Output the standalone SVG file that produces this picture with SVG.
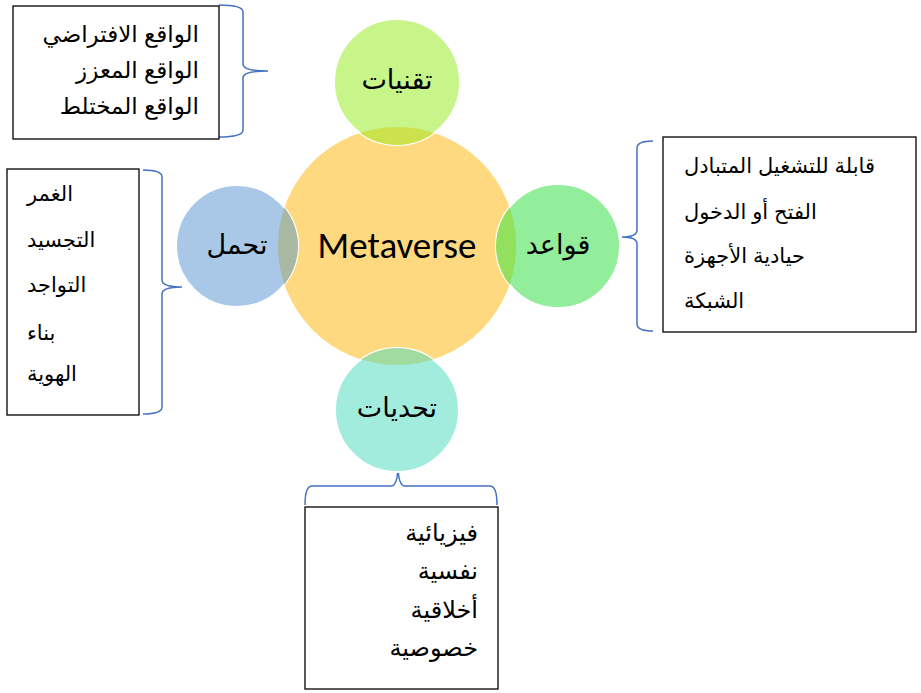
<svg xmlns="http://www.w3.org/2000/svg" width="921" height="693" viewBox="0 0 921 693">
<style>
.box{fill:#fff;stroke:#000;stroke-width:1.3}
.brace{fill:none;stroke:#4472C4;stroke-width:1.5}
.t{font-family:"Liberation Sans","DejaVu Sans",sans-serif;font-size:21px;fill:#000}
.t23{font-size:23px}
.t24{font-size:24px}
.c{font-family:"Liberation Sans","DejaVu Sans",sans-serif;font-size:27px;fill:#000;text-anchor:middle}
.m{font-family:"Carlito","Liberation Sans",sans-serif;font-size:37px;fill:#000;text-anchor:middle}
.ring{stroke:#fff;stroke-width:2}
</style>
<defs>
<clipPath id="big"><circle cx="397" cy="246" r="119"/></clipPath>
</defs>
<g id="connectors">
<path class="brace" d="M219,5 Q243,5 243,12 L243,64 Q243,71 268,71 Q243,71 243,78 L243,130 Q243,137 219,137"/>
<path class="brace" d="M143,170 Q162,170 162,177 L162,280 Q162,287 182,287 Q162,287 162,294 L162,407 Q162,414 143,414"/>
<path class="brace" d="M653,141 Q637,141 637,148 L637,230 Q637,237 622,237 Q637,237 637,244 L637,324 Q637,331 653,331"/>
<path class="brace" d="M305,505 Q305,486 312,486 L391,486 Q398,486 398,464 Q398,486 405,486 L490,486 Q497,486 497,505"/>
</g>
<g id="metaverse">
<circle cx="397" cy="246" r="119" fill="#FFD97F"/>
<text class="m" x="397" y="258">Metaverse</text>
</g>
<g id="tech">
<circle class="ring" cx="397" cy="82" r="63" fill="#C8F58A"/>
<circle cx="397" cy="82" r="63" fill="#CCE24C" clip-path="url(#big)"/>
<text class="c" x="397" y="89">تقنيات</text>
</g>
<g id="endure">
<circle class="ring" cx="237" cy="246" r="61" fill="#A9C8E8"/>
<circle cx="237" cy="246" r="61" fill="#A8B8A2" clip-path="url(#big)"/>
<text class="c" x="237" y="254">تحمل</text>
</g>
<g id="rules">
<circle class="ring" cx="558" cy="246" r="62" fill="#93EE9C"/>
<circle cx="558" cy="246" r="62" fill="#92E05E" clip-path="url(#big)"/>
<text class="c" x="558" y="254">قواعد</text>
</g>
<g id="challenges">
<circle class="ring" cx="397" cy="410" r="62" fill="#A2ECDD"/>
<circle cx="397" cy="410" r="62" fill="#A2DBA0" clip-path="url(#big)"/>
<text class="c" x="397" y="417">تحديات</text>
</g>
<g id="box-tech">
<rect class="box" x="13" y="6" width="206" height="133"/>
<text class="t t23" x="199" y="42" text-anchor="end">الواقع الافتراضي</text>
<text class="t t23" x="199" y="78" text-anchor="end">الواقع المعزز</text>
<text class="t t23" x="199" y="114" text-anchor="end">الواقع المختلط</text>
</g>
<g id="box-endure">
<rect class="box" x="7" y="169" width="132" height="246"/>
<text class="t" x="27" y="201">الغمر</text>
<text class="t" x="27" y="247">التجسيد</text>
<text class="t" x="27" y="292">التواجد</text>
<text class="t" x="27" y="340">بناء</text>
<text class="t" x="27" y="381">الهوية</text>
</g>
<g id="box-rules">
<rect class="box" x="663" y="137" width="253" height="195"/>
<text class="t" x="684" y="173">قابلة للتشغيل المتبادل</text>
<text class="t" x="684" y="219">الفتح أو الدخول</text>
<text class="t" x="684" y="263">حيادية الأجهزة</text>
<text class="t" x="684" y="308">الشبكة</text>
</g>
<g id="box-challenges">
<rect class="box" x="305" y="507" width="193" height="182"/>
<text class="t t24" x="478" y="541" text-anchor="end">فيزيائية</text>
<text class="t t24" x="478" y="579" text-anchor="end">نفسية</text>
<text class="t t24" x="478" y="618" text-anchor="end">أخلاقية</text>
<text class="t t24" x="478" y="656" text-anchor="end">خصوصية</text>
</g>
</svg>
